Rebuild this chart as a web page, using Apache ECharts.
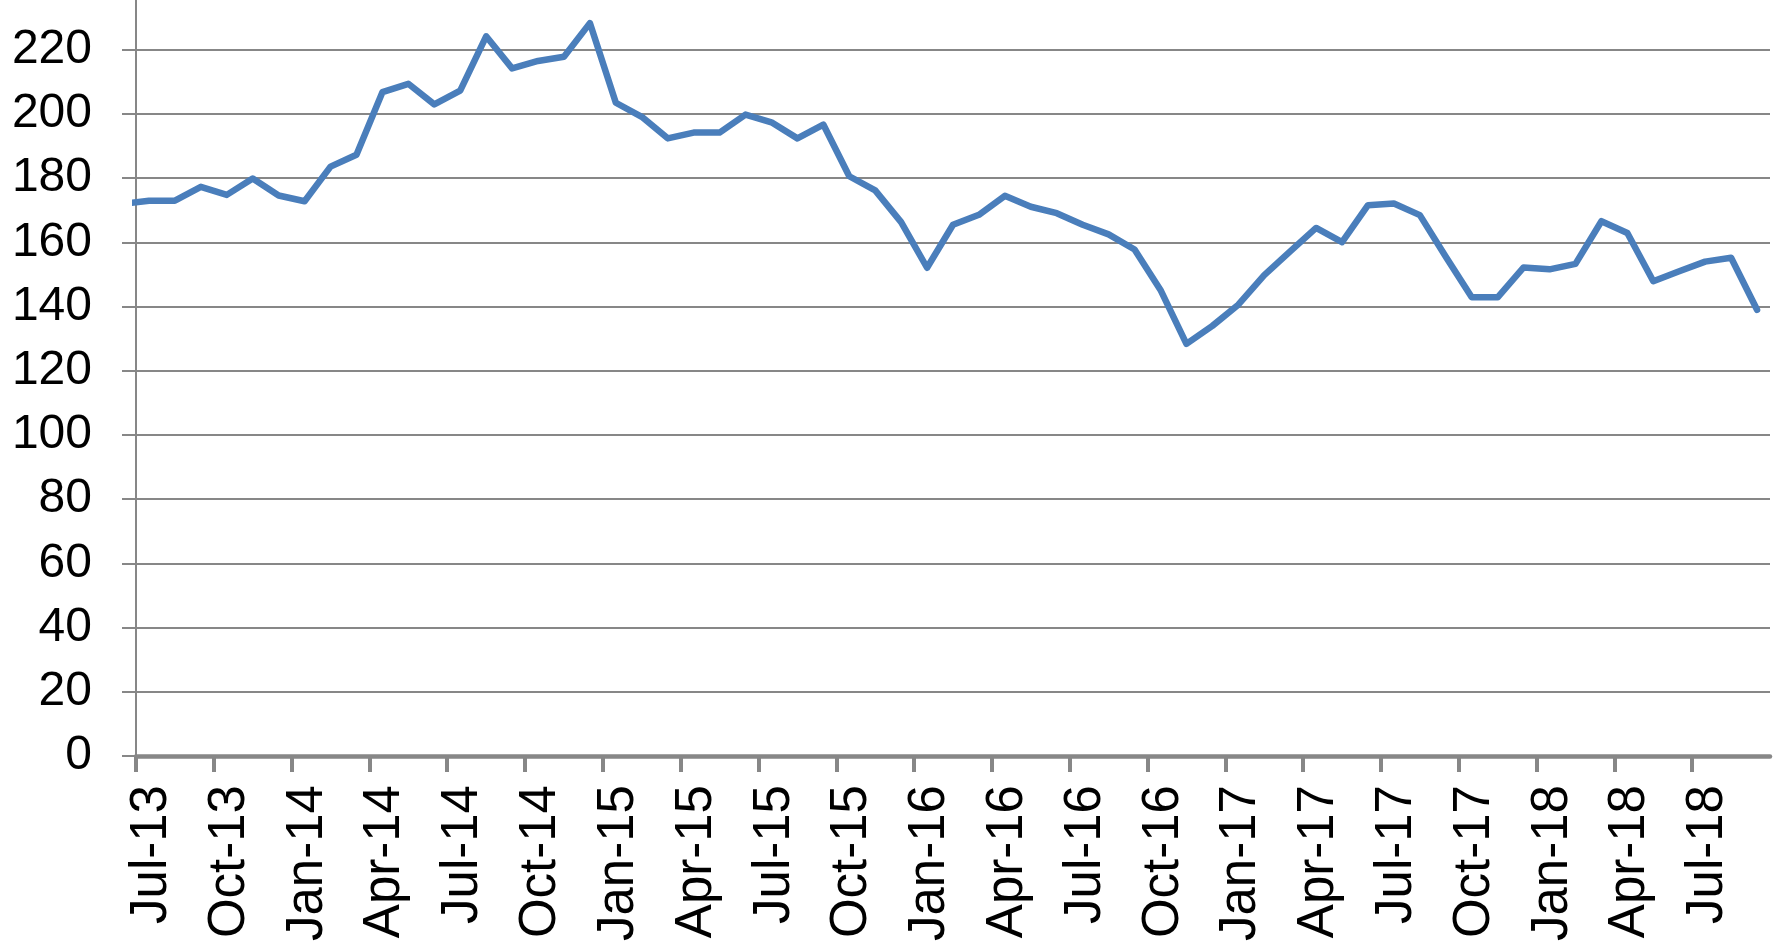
<!DOCTYPE html>
<html>
<head>
<meta charset="utf-8">
<script src="https://cdn.jsdelivr.net/npm/echarts@6/dist/echarts.min.js"></script>
<style>
html,body{margin:0;padding:0;background:#fff;overflow:hidden;}
#chart{width:1781px;height:944px;}
</style>
</head>
<body>
<div id="chart"></div>
<script>
// Monthly observations (mid-month); first month lies just before the axis start and is clipped
var months = ['Jun-13','Jul-13','Aug-13','Sep-13','Oct-13','Nov-13','Dec-13',
  'Jan-14','Feb-14','Mar-14','Apr-14','May-14','Jun-14','Jul-14','Aug-14','Sep-14','Oct-14','Nov-14','Dec-14',
  'Jan-15','Feb-15','Mar-15','Apr-15','May-15','Jun-15','Jul-15','Aug-15','Sep-15','Oct-15','Nov-15','Dec-15',
  'Jan-16','Feb-16','Mar-16','Apr-16','May-16','Jun-16','Jul-16','Aug-16','Sep-16','Oct-16','Nov-16','Dec-16',
  'Jan-17','Feb-17','Mar-17','Apr-17','May-17','Jun-17','Jul-17','Aug-17','Sep-17','Oct-17','Nov-17','Dec-17',
  'Jan-18','Feb-18','Mar-18','Apr-18','May-18','Jun-18','Jul-18','Aug-18','Sep-18'];
var values = [172.0,173.0,173.0,177.3,174.8,179.9,174.6,
  172.8,183.6,187.3,206.8,209.4,203.0,207.3,224.2,214.2,216.5,217.8,228.3,
  203.5,199.1,192.4,194.2,194.2,199.8,197.4,192.4,196.7,180.6,176.2,166.3,
  152.1,165.5,168.6,174.5,171.1,169.1,165.5,162.5,157.8,145.2,128.4,134.0,
  140.6,149.8,157.2,164.5,160.1,171.6,172.1,168.5,155.5,142.9,142.9,152.2,
  151.6,153.3,166.6,162.9,147.9,151.0,154.0,155.2,139.0];
// Quarterly tick labels along the x axis (starting Jul-13, every 3 months)
var tickLabels = ['Jul-13','Oct-13','Jan-14','Apr-14','Jul-14','Oct-14','Jan-15','Apr-15',
  'Jul-15','Oct-15','Jan-16','Apr-16','Jul-16','Oct-16','Jan-17','Apr-17','Jul-17','Oct-17',
  'Jan-18','Apr-18','Jul-18','Oct-18'];
var yTicks = [0,20,40,60,80,100,120,140,160,180,200,220];

// month offset from the axis start (Jul-13 = month 0), points placed mid-month
var firstOffset = -1; // Jun-13
var seriesData = values.map(function (v, i) {
  return [firstOffset + i + 0.5, v];
});

var gray = '#878787';
var chart = echarts.init(document.getElementById('chart'), null, {renderer: 'canvas'});
chart.setOption({
  animation: false,
  backgroundColor: '#ffffff',
  grid: {left: 136, right: 11, top: 0, bottom: 180, containLabel: false},
  xAxis: {
    type: 'value',
    min: 0,
    max: (tickLabels.length - 1) * 3,
    interval: 3,
    axisLine: {show: true, onZero: false, lineStyle: {color: gray, width: 4.5}},
    axisTick: {show: true, inside: false, length: 16, lineStyle: {color: gray, width: 4}},
    splitLine: {show: false},
    axisLabel: {
      rotate: 90,
      margin: 29,
      fontSize: 51,
      fontFamily: 'Liberation Sans, Arial, sans-serif',
      color: '#000',
      verticalAlign: 'top',
      lineHeight: 32,
      showMaxLabel: false,
      formatter: function (v) { return tickLabels[Math.round(v / 3)] || ''; }
    }
  },
  yAxis: {
    type: 'value',
    min: 0,
    max: 235.5,
    interval: 20,
    axisLine: {show: true, lineStyle: {color: gray, width: 2}},
    axisTick: {show: true, inside: false, length: 14, lineStyle: {color: gray, width: 2}},
    splitLine: {show: true, showMaxLine: false, lineStyle: {color: gray, width: 2}},
    axisLabel: {
      margin: 44,
      fontSize: 48,
      fontFamily: 'Liberation Sans, Arial, sans-serif',
      color: '#000',
      showMaxLabel: false,
      formatter: function (v) { return yTicks.indexOf(v) >= 0 ? String(v) : ''; }
    }
  },
  series: [{
    type: 'line',
    data: seriesData,
    showSymbol: false,
    clip: true,
    lineStyle: {color: '#4A7EBB', width: 6.5, cap: 'round', join: 'round'},
    z: 3
  }]
});
</script>
</body>
</html>
